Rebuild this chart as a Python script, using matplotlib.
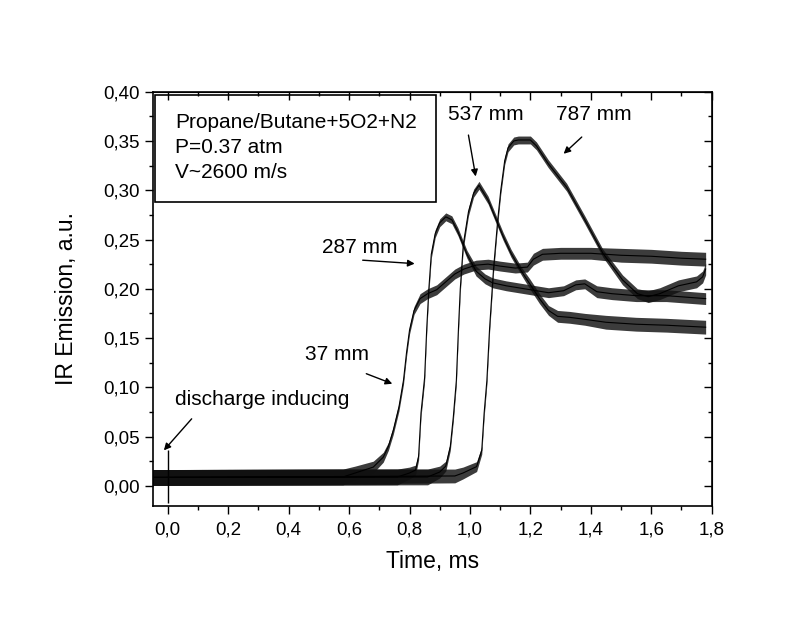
import matplotlib
matplotlib.use("Agg")
import matplotlib.pyplot as plt
from matplotlib.patches import Rectangle
from matplotlib.ticker import MultipleLocator, FuncFormatter

plt.rcParams['font.family'] = ['Liberation Sans', 'DejaVu Sans']

# traces: time (ms), level (a.u.), half-width of the noise band
t_37 = [-0.05, 0.58, 0.62, 0.68, 0.713, 0.73, 0.746, 0.765, 0.78, 0.79, 0.80, 0.815, 0.835, 0.86,
        0.89, 0.92, 0.95, 0.98, 1.02, 1.06, 1.10, 1.15, 1.19, 1.21, 1.24, 1.30, 1.40, 1.50, 1.60,
        1.70, 1.78]
v_37 = [0.0085, 0.009, 0.013, 0.019, 0.029, 0.040, 0.056, 0.080, 0.107, 0.135, 0.158, 0.178,
        0.190, 0.195, 0.199, 0.207, 0.215, 0.220, 0.224, 0.225, 0.223, 0.221, 0.222, 0.230,
        0.235, 0.236, 0.236, 0.234, 0.233, 0.231, 0.230]
w_37 = [0.008, 0.008, 0.007, 0.006, 0.005, 0.004, 0.004, 0.004, 0.004, 0.004, 0.004, 0.004,
        0.005, 0.005, 0.005, 0.005, 0.005, 0.005, 0.005, 0.005, 0.005, 0.005, 0.005, 0.006,
        0.006, 0.006, 0.006, 0.007, 0.007, 0.007, 0.007]

t_287 = [-0.05, 0.76, 0.80, 0.82, 0.83, 0.838, 0.85, 0.857, 0.864, 0.872, 0.885, 0.90, 0.92,
         0.94, 0.96, 0.99, 1.02, 1.05, 1.075, 1.12, 1.20, 1.26, 1.31, 1.35, 1.38, 1.42, 1.47,
         1.55, 1.65, 1.78]
v_287 = [0.0085, 0.009, 0.013, 0.016, 0.030, 0.074, 0.110, 0.160, 0.200, 0.235, 0.256, 0.267,
         0.273, 0.270, 0.258, 0.235, 0.218, 0.210, 0.206, 0.203, 0.199, 0.196, 0.198, 0.204,
         0.205, 0.197, 0.195, 0.193, 0.193, 0.190]
w_287 = [0.008, 0.008, 0.006, 0.005, 0.004, 0.004, 0.004, 0.004, 0.004, 0.004, 0.004, 0.004,
         0.004, 0.004, 0.004, 0.004, 0.005, 0.005, 0.005, 0.005, 0.005, 0.005, 0.005, 0.005,
         0.005, 0.006, 0.006, 0.006, 0.006, 0.006]

t_537 = [-0.05, 0.86, 0.90, 0.92, 0.935, 0.945, 0.955, 0.962, 0.968, 0.978, 0.995, 1.012, 1.030,
         1.06, 1.087, 1.11, 1.136, 1.17, 1.198, 1.23, 1.26, 1.29, 1.33, 1.38, 1.45, 1.55, 1.65,
         1.78]
v_537 = [0.0085, 0.009, 0.014, 0.020, 0.040, 0.070, 0.107, 0.160, 0.200, 0.245, 0.278, 0.297,
         0.305, 0.290, 0.270, 0.253, 0.236, 0.218, 0.205, 0.190, 0.178, 0.172, 0.171, 0.169,
         0.166, 0.164, 0.163, 0.161]
w_537 = [0.008, 0.008, 0.006, 0.005, 0.004, 0.004, 0.004, 0.004, 0.004, 0.004, 0.004, 0.004,
         0.004, 0.004, 0.004, 0.004, 0.004, 0.004, 0.005, 0.005, 0.005, 0.006, 0.006, 0.006,
         0.007, 0.007, 0.007, 0.007]

t_787 = [-0.05, 0.95, 0.977, 1.022, 1.039, 1.047, 1.056, 1.065, 1.078, 1.092, 1.102, 1.115,
         1.126, 1.145, 1.16, 1.20, 1.22, 1.259, 1.32, 1.38, 1.44, 1.505, 1.554, 1.59, 1.628,
         1.69, 1.75, 1.77, 1.78]
v_787 = [0.0085, 0.010, 0.013, 0.0195, 0.036, 0.074, 0.107, 0.160, 0.220, 0.270, 0.300, 0.330,
         0.343, 0.350, 0.351, 0.351, 0.345, 0.327, 0.303, 0.270, 0.236, 0.209, 0.195, 0.192,
         0.195, 0.203, 0.207, 0.212, 0.220]
w_787 = [0.008, 0.007, 0.006, 0.005, 0.004, 0.004, 0.004, 0.004, 0.004, 0.004, 0.004, 0.004,
         0.004, 0.004, 0.004, 0.004, 0.004, 0.004, 0.004, 0.004, 0.004, 0.005, 0.005, 0.006,
         0.006, 0.006, 0.006, 0.006, 0.006]

traces = [(t_37, v_37, w_37), (t_287, v_287, w_287), (t_537, v_537, w_537), (t_787, v_787, w_787)]

# discharge spike at t = 0
spike_t = 0.0
spike_lo, spike_hi = -0.017, 0.036

box_lines = ["Propane/Butane+5O2+N2", "P=0.37 atm", "V~2600 m/s"]


fig = plt.figure(figsize=(7.87, 6.18), dpi=100)
ax = fig.add_axes([0.194, 0.182, 0.7103, 0.6696])

for t, v, w in traces:
    lo = [a - b for a, b in zip(v, w)]
    hi = [a + b for a, b in zip(v, w)]
    ax.fill_between(t, lo, hi, color='#111111', alpha=0.82, lw=0)
    ax.plot(t, v, color='k', lw=0.8)

ax.vlines(spike_t, spike_lo, spike_hi, color='k', lw=1.0)

ax.set_xlim(-0.05, 1.8)
ax.set_ylim(-0.02, 0.40)

ax.xaxis.set_major_locator(MultipleLocator(0.2))
ax.xaxis.set_minor_locator(MultipleLocator(0.1))
ax.yaxis.set_major_locator(MultipleLocator(0.05))
ax.yaxis.set_minor_locator(MultipleLocator(0.025))
ax.xaxis.set_major_formatter(FuncFormatter(lambda x, _: f"{x:.1f}".replace('.', ',')))
ax.yaxis.set_major_formatter(FuncFormatter(lambda y, _: f"{y:.2f}".replace('.', ',')))
ax.tick_params(which='major', direction='out', length=5.5, width=1, labelsize=13.5, pad=4)
ax.tick_params(which='minor', direction='out', length=3, width=1)
ax.tick_params(axis='x', which='major', pad=6)

# mirrored ticks pointing in on top and right
top = ax.secondary_xaxis('top')
top.xaxis.set_major_locator(MultipleLocator(0.2))
top.xaxis.set_minor_locator(MultipleLocator(0.1))
top.tick_params(which='major', direction='in', length=5.5, width=1, labeltop=False)
top.tick_params(which='minor', direction='in', length=3, width=1)
right = ax.secondary_yaxis('right')
right.yaxis.set_major_locator(MultipleLocator(0.05))
right.yaxis.set_minor_locator(MultipleLocator(0.025))
right.tick_params(which='major', direction='in', length=5.5, width=1, labelright=False)
right.tick_params(which='minor', direction='in', length=3, width=1)

for sp in ax.spines.values():
    sp.set_linewidth(1.2)

ax.set_xlabel("Time, ms", fontsize=16.5, labelpad=8)
ax.set_ylabel("IR Emission, a.u.", fontsize=16.5)
ax.yaxis.set_label_coords(-0.134, 0.5)

# text box
ax.add_patch(Rectangle((-0.042, 0.288), 0.93, 0.109, fill=False, lw=1.2, ec='k', zorder=3))
for i, line in enumerate(box_lines):
    ax.text(0.024, 0.363 - i * 0.0255, line, fontsize=15, ha='left', va='baseline')

arrow = dict(arrowstyle='-|>', lw=1.0, color='k', mutation_scale=10, shrinkA=0, shrinkB=0)
ax.annotate("", xy=(1.019, 0.314), xytext=(0.995, 0.356), arrowprops=arrow)
ax.text(0.928, 0.371, "537 mm", fontsize=15, ha='left', va='baseline')
ax.annotate("", xy=(1.31, 0.337), xytext=(1.37, 0.354), arrowprops=arrow)
ax.text(1.284, 0.371, "787 mm", fontsize=15, ha='left', va='baseline')
ax.annotate("", xy=(0.817, 0.2255), xytext=(0.645, 0.229), arrowprops=arrow)
ax.text(0.509, 0.236, "287 mm", fontsize=15, ha='left', va='baseline')
ax.annotate("", xy=(0.743, 0.1036), xytext=(0.657, 0.1138), arrowprops=arrow)
ax.text(0.454, 0.1275, "37 mm", fontsize=15, ha='left', va='baseline')
ax.annotate("", xy=(-0.013, 0.036), xytext=(0.079, 0.068), arrowprops=arrow)
ax.text(0.024, 0.0818, "discharge inducing", fontsize=15, ha='left', va='baseline')

fig.savefig("out.png", dpi=100)
